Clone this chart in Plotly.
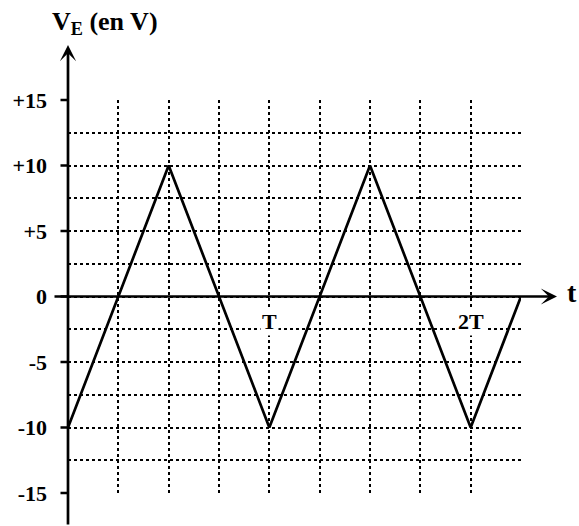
import plotly.graph_objects as go

# temps en quarts de periode (T = 4 carreaux), tension en V
t_vals = [0, 2, 4, 6, 8, 9]
v_vals = [-10, 10, -10, 10, -10, 0]

y_ticks = [-15, -10, -5, 0, 5, 10, 15]
y_ticktext = ["-15", "-10", "-5", "0", "+5", "+10", "+15"]

period_pos = [4, 8]
period_text = ["T", "2T"]

FONT = "Liberation Serif"
PW, PH = 453, 393  # taille du cadre quadrille en pixels

fig = go.Figure()
fig.add_trace(go.Scatter(x=t_vals, y=v_vals, mode="lines",
                         line=dict(color="black", width=2.7),
                         cliponaxis=False, hoverinfo="skip"))

fig.update_layout(
    width=579, height=526,
    margin=dict(l=68, r=58, t=100, b=33, autoexpand=False),
    plot_bgcolor="white", paper_bgcolor="white",
    showlegend=False,
    font=dict(family=FONT, color="black", size=22, weight="bold"),
    xaxis=dict(range=[0, 9], dtick=1, showgrid=True, gridcolor="black",
               gridwidth=1.5, griddash="dot", showticklabels=False,
               zeroline=False, showline=False, ticks=""),
    yaxis=dict(range=[-15, 15], tickvals=y_ticks, ticktext=y_ticktext,
               showgrid=True, gridcolor="black", gridwidth=1.5, griddash="dot",
               minor=dict(dtick=2.5, showgrid=True, gridcolor="black",
                          gridwidth=1.5, griddash="dot"),
               ticks="", ticklabelstandoff=20,
               zeroline=False, showline=False),
)

# graduations de l'axe vertical (petits traits a gauche de l'axe)
for v in y_ticks:
    fig.add_annotation(xref="paper", yref="y", x=0, y=v, ax=-9, ay=0,
                       text="", showarrow=True, arrowhead=0, standoff=0,
                       arrowwidth=2.5, arrowcolor="black")

# axes avec fleches
fig.add_annotation(xref="paper", yref="paper", x=(557 - 68) / PW, y=0.5,
                   ax=-504, ay=0, showarrow=True, arrowhead=3, arrowsize=1,
                   arrowwidth=2.7, arrowcolor="black", text="")
fig.add_annotation(xref="paper", yref="paper", x=0, y=(493 - 45) / PH,
                   ax=0, ay=481, showarrow=True, arrowhead=3, arrowsize=1,
                   arrowwidth=2.7, arrowcolor="black", text="")

fig.add_annotation(xref="paper", yref="paper", x=(50 - 68) / PW,
                   y=(493 - 23) / PH, xanchor="left", yanchor="middle",
                   text="V<sub>E</sub> (en V)", showarrow=False,
                   font=dict(size=26))
fig.add_annotation(xref="paper", yref="paper", x=(572 - 68) / PW,
                   y=0.51, xanchor="center", yanchor="middle", text="t",
                   showarrow=False, font=dict(size=28))

for p, txt in zip(period_pos, period_text):
    fig.add_annotation(x=p, y=-1.9, text=txt, showarrow=False,
                       bgcolor="white", font=dict(size=22))

fig.write_html("out.html", config={"displayModeBar": False},
               post_script="document.body.style.margin = '0px';")
